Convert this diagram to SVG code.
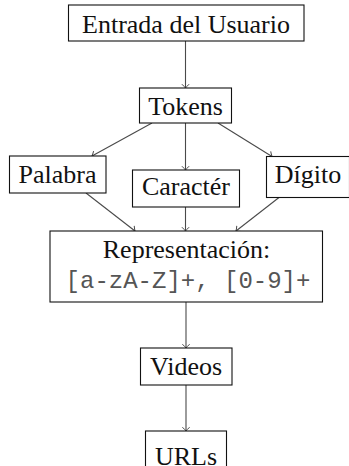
<svg xmlns="http://www.w3.org/2000/svg" width="349" height="466" viewBox="0 0 349 466">
  <defs>
    <marker id="tip" markerUnits="userSpaceOnUse" markerWidth="12" markerHeight="12" viewBox="-6 -6 12 12" refX="0" refY="0" orient="auto" overflow="visible">
      <path d="M -3.8 -3.6 Q -1.2 -0.9 0 0 Q -1.2 0.9 -3.8 3.6" fill="none" stroke="#4a4a4a" stroke-width="1"/>
    </marker>
  </defs>
  <style>
    .box { fill: #fff; stroke: #111; stroke-width: 1.1; }
    .lbl { font-size: 26px; fill: #111; text-anchor: middle; }
    .mono { font-size: 24px; fill: #555; text-anchor: middle; }
    .edge { fill: none; stroke: #4a4a4a; stroke-width: 1.1; marker-end: url(#tip); }
  </style>
  <rect width="349" height="466" fill="#fff"/>

  <g id="connectors">
    <line class="edge" x1="185.5" y1="41" x2="185.5" y2="88"/>
    <line class="edge" x1="152" y1="123" x2="92" y2="156"/>
    <line class="edge" x1="185.5" y1="123" x2="185.5" y2="170"/>
    <line class="edge" x1="218" y1="123" x2="272" y2="156.5"/>
    <line class="edge" x1="86" y1="193" x2="135" y2="231"/>
    <line class="edge" x1="185.5" y1="207" x2="185.5" y2="231"/>
    <line class="edge" x1="279" y1="197.5" x2="236" y2="231"/>
    <line class="edge" x1="186" y1="302" x2="186" y2="348"/>
    <line class="edge" x1="186" y1="385" x2="186" y2="431"/>
  </g>

  <g font-family="Liberation Serif, Times New Roman, serif">
    <g id="entrada">
      <rect class="box" x="68.5" y="5" width="235.5" height="36"/>
      <text class="lbl" x="186" y="33.3">Entrada del Usuario</text>
    </g>
    <g id="tokens">
      <rect class="box" x="139.5" y="88" width="92" height="35"/>
      <text class="lbl" x="185.5" y="115">Tokens</text>
    </g>
    <g id="palabra">
      <rect class="box" x="9.5" y="156" width="96.5" height="37"/>
      <text class="lbl" x="57.5" y="183.3">Palabra</text>
    </g>
    <g id="caracter">
      <rect class="box" x="132.5" y="170" width="107" height="37"/>
      <text class="lbl" x="186" y="195">Caractér</text>
    </g>
    <g id="digito">
      <rect class="box" x="266.5" y="156.5" width="83" height="41"/>
      <text class="lbl" x="308" y="183.3">Dígito</text>
    </g>
    <g id="representacion">
      <rect class="box" x="50" y="231" width="272.5" height="71"/>
      <text class="lbl" x="186.5" y="258.3">Representación:</text>
      <text class="mono" x="188" y="288.3" font-family="Liberation Mono, Courier New, monospace">[a-zA-Z]+, [0-9]+</text>
    </g>
    <g id="videos">
      <rect class="box" x="140.5" y="348" width="91.5" height="37"/>
      <text class="lbl" x="186" y="375">Videos</text>
    </g>
    <g id="urls">
      <rect class="box" x="145.5" y="431" width="81" height="37"/>
      <text class="lbl" x="186" y="464.5">URLs</text>
    </g>
  </g>
</svg>
